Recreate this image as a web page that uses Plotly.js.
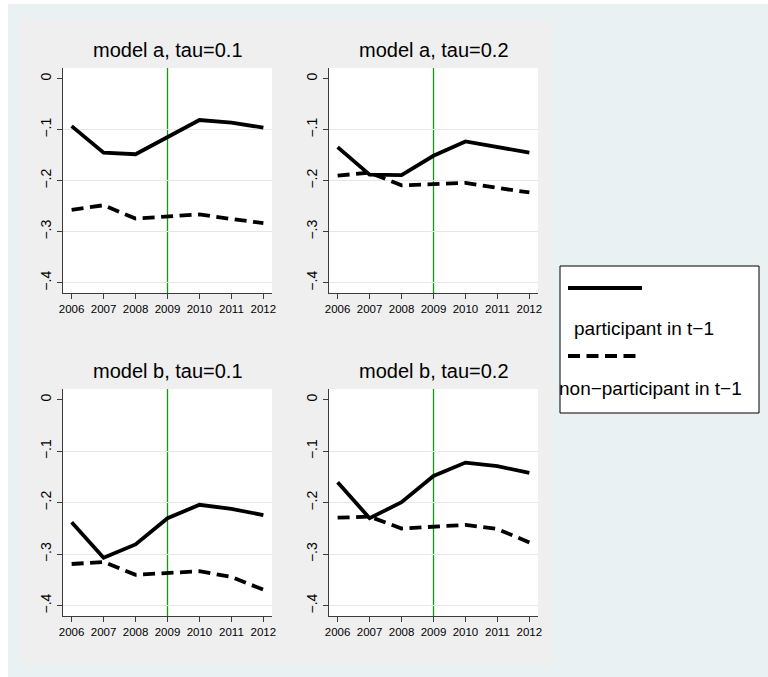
<!DOCTYPE html>
<html>
<head>
<meta charset="utf-8">
<script src="https://cdn.plot.ly/plotly-3.0.1.min.js"></script>
<style>html,body{margin:0;padding:0;background:#fff;}</style>
</head>
<body>
<div id="chart" style="width:768px;height:677px;"></div>
<script>
// ---- data ----
var years = [2006, 2007, 2008, 2009, 2010, 2011, 2012];
var cutoffYear = 2009;
var panelTitles = ['model a, tau=0.1', 'model a, tau=0.2', 'model b, tau=0.1', 'model b, tau=0.2'];
var seriesNames = ['participant in t\u22121', 'non\u2212participant in t\u22121'];

var a1Part = [-0.093, -0.145, -0.148, -0.115, -0.081, -0.086, -0.096];
var a1Non  = [-0.257, -0.248, -0.274, -0.270, -0.266, -0.275, -0.283];
var a2Part = [-0.134, -0.188, -0.189, -0.151, -0.123, -0.134, -0.145];
var a2Non  = [-0.190, -0.184, -0.209, -0.206, -0.204, -0.214, -0.223];
var b1Part = [-0.238, -0.307, -0.281, -0.230, -0.204, -0.212, -0.224];
var b1Non  = [-0.319, -0.315, -0.340, -0.336, -0.333, -0.344, -0.369];
var b2Part = [-0.160, -0.230, -0.199, -0.148, -0.122, -0.129, -0.142];
var b2Non  = [-0.229, -0.227, -0.250, -0.246, -0.243, -0.251, -0.277];

var yTickVals = [0, -0.1, -0.2, -0.3, -0.4];
var yTickText = ['0', '\u2212.1', '\u2212.2', '\u2212.3', '\u2212.4'];
var yGridVals = [-0.1, -0.2, -0.3, -0.4];

// ---- layout helpers ----
var W = 768, H = 677;
function px(x) { return x / W; }
function py(y) { return 1 - y / H; }
var FONT = 'Liberation Sans, Arial, Helvetica, sans-serif';

var panels = [
  {part: a1Part, non: a1Non, xd: [63, 272], yd: [68, 293]},
  {part: a2Part, non: a2Non, xd: [329, 538], yd: [68, 293]},
  {part: b1Part, non: b1Non, xd: [63, 272], yd: [389, 616]},
  {part: b2Part, non: b2Non, xd: [329, 538], yd: [389, 616]}
];

var solidLine = {color: '#000000', width: 3.8};
var dashLine = {color: '#000000', width: 3.8, dash: '12px,6.5px'};

var traces = [];
var layout = {
  width: W, height: H,
  margin: {l: 0, r: 0, t: 0, b: 0},
  paper_bgcolor: '#ffffff',
  plot_bgcolor: '#ffffff',
  showlegend: false,
  font: {family: FONT, color: '#000000'},
  shapes: [
    {type: 'rect', xref: 'paper', yref: 'paper', x0: px(8), x1: 1, y0: 0, y1: py(4),
     fillcolor: '#e9f1f3', line: {width: 0}, layer: 'below'},
    {type: 'rect', xref: 'paper', yref: 'paper', x0: px(20), x1: px(554), y0: py(663), y1: py(19),
     fillcolor: '#efefef', line: {width: 0}, layer: 'below'}
  ],
  annotations: []
};

panels.forEach(function (p, i) {
  var n = i + 1;
  var xa = n === 1 ? 'x' : 'x' + n;
  var ya = n === 1 ? 'y' : 'y' + n;
  var xk = n === 1 ? 'xaxis' : 'xaxis' + n;
  var yk = n === 1 ? 'yaxis' : 'yaxis' + n;
  traces.push({x: years, y: p.part, xaxis: xa, yaxis: ya, type: 'scatter', mode: 'lines',
               line: solidLine, name: seriesNames[0], hoverinfo: 'skip'});
  traces.push({x: years, y: p.non, xaxis: xa, yaxis: ya, type: 'scatter', mode: 'lines',
               line: dashLine, name: seriesNames[1], hoverinfo: 'skip'});
  layout[xk] = {
    domain: [px(p.xd[0]), px(p.xd[1])], anchor: ya,
    range: [2005.73, 2012.27], tickmode: 'array', tickvals: years,
    ticktext: years.map(String),
    showgrid: false, zeroline: false, showline: true, linecolor: '#3c3c3c', linewidth: 1,
    ticks: 'outside', ticklen: 5, tickcolor: '#3c3c3c', tickwidth: 1,
    tickfont: {family: FONT, size: 11.5, color: '#000'}, fixedrange: true
  };
  layout[yk] = {
    domain: [py(p.yd[1]), py(p.yd[0])], anchor: xa,
    range: [-0.42, 0.021], tickmode: 'array', tickvals: yTickVals, ticktext: yTickText,
    tickangle: -90,
    showgrid: false, zeroline: false,
    minor: {tickmode: 'array', tickvals: yGridVals, showgrid: true, gridcolor: '#e6e6e6',
            gridwidth: 1.3, ticks: ''},
    showline: true, linecolor: '#3c3c3c', linewidth: 1,
    ticks: 'outside', ticklen: 5, tickcolor: '#3c3c3c', tickwidth: 1,
    tickfont: {family: FONT, size: 14, color: '#000'}, fixedrange: true
  };
  // white plot region
  layout.shapes.push({type: 'rect', xref: 'paper', yref: 'paper',
    x0: px(p.xd[0]), x1: px(p.xd[1]), y0: py(p.yd[1]), y1: py(p.yd[0]),
    fillcolor: '#ffffff', line: {width: 0}, layer: 'below'});
  // vertical reference line
  layout.shapes.push({type: 'line', xref: xa, yref: 'paper',
    x0: cutoffYear, x1: cutoffYear, y0: py(p.yd[1]), y1: py(p.yd[0]),
    line: {color: '#109a10', width: 1.3}, layer: 'below'});
  // panel title
  layout.annotations.push({text: panelTitles[i], xref: 'paper', yref: 'paper',
    x: px((p.xd[0] + p.xd[1]) / 2), y: py(p.yd[0]), xanchor: 'center', yanchor: 'bottom',
    yshift: 5, showarrow: false,
    font: {family: FONT, size: 20, color: '#000'}});
});

// legend box drawn by hand (key above label as in the original)
layout.shapes.push({type: 'rect', xref: 'paper', yref: 'paper', x0: px(560), x1: px(759),
  y0: py(413), y1: py(266), fillcolor: '#ffffff', line: {color: '#000000', width: 1}, layer: 'below'});
layout.shapes.push({type: 'line', xref: 'paper', yref: 'paper', x0: px(568), x1: px(642),
  y0: py(288), y1: py(288), line: solidLine, layer: 'below'});
layout.shapes.push({type: 'line', xref: 'paper', yref: 'paper', x0: px(568), x1: px(642),
  y0: py(356), y1: py(356), line: dashLine, layer: 'below'});
layout.annotations.push({text: seriesNames[0], xref: 'paper', yref: 'paper', x: px(572), y: py(328),
  xanchor: 'left', yanchor: 'middle', showarrow: false, font: {family: FONT, size: 19, color: '#000'}});
layout.annotations.push({text: seriesNames[1], xref: 'paper', yref: 'paper', x: px(557), y: py(388),
  xanchor: 'left', yanchor: 'middle', showarrow: false, font: {family: FONT, size: 19, color: '#000'}});

Plotly.newPlot('chart', traces, layout, {staticPlot: true, displayModeBar: false});
</script>
</body>
</html>
